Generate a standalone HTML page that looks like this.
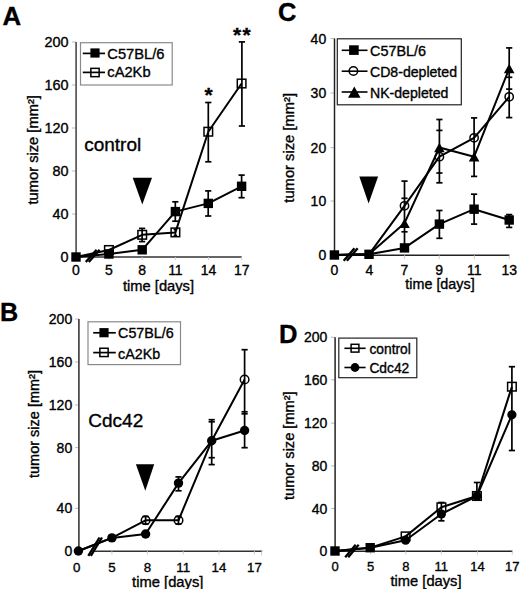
<!DOCTYPE html><html><head><meta charset="utf-8"><style>html,body{margin:0;padding:0;background:#fff;}svg{display:block;}text{font-family:"Liberation Sans",sans-serif;fill:#000;stroke:#000;stroke-width:0.35px;}</style></head><body>
<svg width="520" height="589" viewBox="0 0 520 589">
<rect width="520" height="589" fill="#fff"/>
<text x="2.4" y="25.1" font-size="25.8" text-anchor="start" font-weight="bold">A</text>
<line x1="72" y1="42" x2="76" y2="42" stroke="#bbb" stroke-width="1"/>
<text x="68.5" y="47.184" font-size="14.4" text-anchor="end">200</text>
<line x1="72" y1="85" x2="76" y2="85" stroke="#bbb" stroke-width="1"/>
<text x="68.5" y="90.184" font-size="14.4" text-anchor="end">160</text>
<line x1="72" y1="128" x2="76" y2="128" stroke="#bbb" stroke-width="1"/>
<text x="68.5" y="133.184" font-size="14.4" text-anchor="end">120</text>
<line x1="72" y1="171" x2="76" y2="171" stroke="#bbb" stroke-width="1"/>
<text x="68.5" y="176.184" font-size="14.4" text-anchor="end">80</text>
<line x1="72" y1="214" x2="76" y2="214" stroke="#bbb" stroke-width="1"/>
<text x="68.5" y="219.184" font-size="14.4" text-anchor="end">40</text>
<line x1="72" y1="257" x2="76" y2="257" stroke="#bbb" stroke-width="1"/>
<text x="68.5" y="262.184" font-size="14.4" text-anchor="end">0</text>
<line x1="76.1" y1="42" x2="76.1" y2="257" stroke="#4a4a4a" stroke-width="1.6"/>
<line x1="76" y1="257.1" x2="241.7" y2="257.1" stroke="#333" stroke-width="1.5"/>
<line x1="76" y1="257" x2="76" y2="260" stroke="#ccc" stroke-width="1"/>
<text x="76" y="275.2" font-size="14" text-anchor="middle">0</text>
<line x1="109" y1="257" x2="109" y2="260" stroke="#ccc" stroke-width="1"/>
<text x="109" y="275.2" font-size="14" text-anchor="middle">5</text>
<line x1="142.2" y1="257" x2="142.2" y2="260" stroke="#ccc" stroke-width="1"/>
<text x="142.2" y="275.2" font-size="14" text-anchor="middle">8</text>
<line x1="175.4" y1="257" x2="175.4" y2="260" stroke="#ccc" stroke-width="1"/>
<text x="175.4" y="275.2" font-size="14" text-anchor="middle">11</text>
<line x1="208.5" y1="257" x2="208.5" y2="260" stroke="#ccc" stroke-width="1"/>
<text x="208.5" y="275.2" font-size="14" text-anchor="middle">14</text>
<line x1="241.7" y1="257" x2="241.7" y2="260" stroke="#ccc" stroke-width="1"/>
<text x="241.7" y="275.2" font-size="14" text-anchor="middle">17</text>
<text x="123.0" y="291.3" font-size="14.7" text-anchor="start">time [days]</text>
<text transform="translate(37.6,149.8) rotate(-90)" font-size="14.7" text-anchor="middle">tumor size [mm²]</text>
<rect x="80.5" y="42.7" width="91.7" height="42.3" fill="#fff" stroke="#8a8a8a" stroke-width="1.2"/>
<line x1="82.8" y1="53.4" x2="105" y2="53.4" stroke="#000" stroke-width="1.7"/>
<rect x="90.4" y="48.4" width="9.2" height="9.2" fill="#000"/>
<text x="107.3" y="58.8" font-size="14.7" text-anchor="start">C57BL/6</text>
<line x1="82.8" y1="72.4" x2="105" y2="72.4" stroke="#000" stroke-width="1.7"/>
<rect x="90.85" y="68.35" width="8.3" height="8.3" fill="none" stroke="#000" stroke-width="1.5"/>
<text x="107.3" y="77.4" font-size="14.7" text-anchor="start">cA2Kb</text>
<text x="84.2" y="150.8" font-size="19.0" text-anchor="start">control</text>
<polygon points="132.7,177.7 152,177.7 142.3,204.6" fill="#000"/>
<line x1="142.1" y1="228.4" x2="142.1" y2="241.6" stroke="#000" stroke-width="1.7"/>
<line x1="139.0" y1="228.4" x2="145.2" y2="228.4" stroke="#000" stroke-width="1.7"/>
<line x1="139.0" y1="241.6" x2="145.2" y2="241.6" stroke="#000" stroke-width="1.7"/>
<line x1="175.3" y1="201.8" x2="175.3" y2="221.2" stroke="#000" stroke-width="1.7"/>
<line x1="172.20000000000002" y1="201.8" x2="178.4" y2="201.8" stroke="#000" stroke-width="1.7"/>
<line x1="172.20000000000002" y1="221.2" x2="178.4" y2="221.2" stroke="#000" stroke-width="1.7"/>
<line x1="208.2" y1="190.9" x2="208.2" y2="216" stroke="#000" stroke-width="1.7"/>
<line x1="205.1" y1="190.9" x2="211.29999999999998" y2="190.9" stroke="#000" stroke-width="1.7"/>
<line x1="205.1" y1="216" x2="211.29999999999998" y2="216" stroke="#000" stroke-width="1.7"/>
<line x1="241.6" y1="175.1" x2="241.6" y2="197.7" stroke="#000" stroke-width="1.7"/>
<line x1="238.5" y1="175.1" x2="244.7" y2="175.1" stroke="#000" stroke-width="1.7"/>
<line x1="238.5" y1="197.7" x2="244.7" y2="197.7" stroke="#000" stroke-width="1.7"/>
<line x1="208.3" y1="102.5" x2="208.3" y2="161.8" stroke="#000" stroke-width="1.7"/>
<line x1="205.20000000000002" y1="102.5" x2="211.4" y2="102.5" stroke="#000" stroke-width="1.7"/>
<line x1="205.20000000000002" y1="161.8" x2="211.4" y2="161.8" stroke="#000" stroke-width="1.7"/>
<line x1="241.9" y1="41.9" x2="241.9" y2="126.0" stroke="#000" stroke-width="1.7"/>
<line x1="238.8" y1="41.9" x2="245.0" y2="41.9" stroke="#000" stroke-width="1.7"/>
<line x1="238.8" y1="126.0" x2="245.0" y2="126.0" stroke="#000" stroke-width="1.7"/>
<line x1="175.4" y1="229.5" x2="175.4" y2="235.5" stroke="#000" stroke-width="1.7"/>
<line x1="173.65" y1="229.5" x2="177.15" y2="229.5" stroke="#000" stroke-width="1.7"/>
<line x1="173.65" y1="235.5" x2="177.15" y2="235.5" stroke="#000" stroke-width="1.7"/>
<line x1="85.8" y1="261.9" x2="96.6" y2="249.8" stroke="#000" stroke-width="2.3"/>
<line x1="88.8" y1="261.9" x2="99.6" y2="249.8" stroke="#000" stroke-width="2.3"/>
<polyline points="76,257 108.9,250 142.2,234.8 175.4,232.4 208.3,131.7 241.6,83.5" fill="none" stroke="#000" stroke-width="2.0" stroke-linejoin="round"/>
<polyline points="76,257 108.9,254 142.2,249.8 175.4,211.6 208.3,203.4 241.6,186.3" fill="none" stroke="#000" stroke-width="2.0" stroke-linejoin="round"/>
<rect x="104.60000000000001" y="245.7" width="8.6" height="8.6" fill="none" stroke="#000" stroke-width="1.5"/>
<rect x="137.89999999999998" y="230.5" width="8.6" height="8.6" fill="none" stroke="#000" stroke-width="1.5"/>
<rect x="171.1" y="228.1" width="8.6" height="8.6" fill="none" stroke="#000" stroke-width="1.5"/>
<rect x="204.0" y="127.39999999999999" width="8.6" height="8.6" fill="none" stroke="#000" stroke-width="1.5"/>
<rect x="237.29999999999998" y="79.2" width="8.6" height="8.6" fill="none" stroke="#000" stroke-width="1.5"/>
<rect x="71.3" y="252.3" width="9.4" height="9.4" fill="#000"/>
<rect x="104.2" y="249.3" width="9.4" height="9.4" fill="#000"/>
<rect x="137.5" y="245.10000000000002" width="9.4" height="9.4" fill="#000"/>
<rect x="170.70000000000002" y="206.9" width="9.4" height="9.4" fill="#000"/>
<rect x="203.60000000000002" y="198.70000000000002" width="9.4" height="9.4" fill="#000"/>
<rect x="236.9" y="181.60000000000002" width="9.4" height="9.4" fill="#000"/>
<text x="208.7" y="101.5" font-size="21" text-anchor="middle" font-weight="bold">*</text>
<text x="242.6" y="42.2" font-size="21" text-anchor="middle" font-weight="bold" letter-spacing="1.4">**</text>
<text x="0" y="321.1" font-size="25.2" text-anchor="start" font-weight="bold">B</text>
<line x1="75" y1="319" x2="79" y2="319" stroke="#bbb" stroke-width="1"/>
<text x="72.2" y="324.04" font-size="14" text-anchor="end">200</text>
<line x1="75" y1="362" x2="79" y2="362" stroke="#bbb" stroke-width="1"/>
<text x="72.2" y="367.04" font-size="14" text-anchor="end">160</text>
<line x1="75" y1="405" x2="79" y2="405" stroke="#bbb" stroke-width="1"/>
<text x="72.2" y="410.04" font-size="14" text-anchor="end">120</text>
<line x1="75" y1="447.6" x2="79" y2="447.6" stroke="#bbb" stroke-width="1"/>
<text x="72.2" y="452.64000000000004" font-size="14" text-anchor="end">80</text>
<line x1="75" y1="508.3" x2="79" y2="508.3" stroke="#bbb" stroke-width="1"/>
<text x="72.2" y="513.34" font-size="14" text-anchor="end">40</text>
<line x1="75" y1="551.2" x2="79" y2="551.2" stroke="#bbb" stroke-width="1"/>
<text x="72.2" y="556.24" font-size="14" text-anchor="end">0</text>
<line x1="78.9" y1="319" x2="78.9" y2="551.2" stroke="#383838" stroke-width="1.6"/>
<line x1="94" y1="551.3" x2="262.2" y2="551.3" stroke="#333" stroke-width="1.5"/>
<line x1="261.5" y1="551.3" x2="261.5" y2="555.5" stroke="#ccc" stroke-width="1"/>
<line x1="76.8" y1="551.2" x2="76.8" y2="554.5" stroke="#ccc" stroke-width="1"/>
<text x="76.8" y="572.3" font-size="13.3" text-anchor="middle">0</text>
<line x1="111.9" y1="551.2" x2="111.9" y2="554.5" stroke="#ccc" stroke-width="1"/>
<text x="111.9" y="572.3" font-size="13.3" text-anchor="middle">5</text>
<line x1="147.4" y1="551.2" x2="147.4" y2="554.5" stroke="#ccc" stroke-width="1"/>
<text x="147.4" y="572.3" font-size="13.3" text-anchor="middle">8</text>
<line x1="183.2" y1="551.2" x2="183.2" y2="554.5" stroke="#ccc" stroke-width="1"/>
<text x="183.2" y="572.3" font-size="13.3" text-anchor="middle">11</text>
<line x1="218.9" y1="551.2" x2="218.9" y2="554.5" stroke="#ccc" stroke-width="1"/>
<text x="218.9" y="572.3" font-size="13.3" text-anchor="middle">14</text>
<line x1="254.4" y1="551.2" x2="254.4" y2="554.5" stroke="#ccc" stroke-width="1"/>
<text x="254.4" y="572.3" font-size="13.3" text-anchor="middle">17</text>
<text x="132.1" y="586.6" font-size="14.75" text-anchor="start">time [days]</text>
<text transform="translate(39.2,424) rotate(-90)" font-size="14.5" text-anchor="middle">tumor size [mm²]</text>
<rect x="88" y="321.8" width="92.5" height="42.8" fill="#fff" stroke="#8a8a8a" stroke-width="1.2"/>
<line x1="93.2" y1="332.8" x2="115.8" y2="332.8" stroke="#000" stroke-width="1.7"/>
<rect x="99.4" y="328.09999999999997" width="9.2" height="9.2" fill="#000"/>
<text x="118.1" y="338.3" font-size="14.3" text-anchor="start">C57BL/6</text>
<line x1="93.2" y1="352.6" x2="115.8" y2="352.6" stroke="#000" stroke-width="1.7"/>
<rect x="99.85" y="348.25" width="8.3" height="8.3" fill="none" stroke="#000" stroke-width="1.5"/>
<text x="118.1" y="359.0" font-size="14.3" text-anchor="start">cA2Kb</text>
<text x="88.3" y="427.3" font-size="19.0" text-anchor="start">Cdc42</text>
<polygon points="135.9,464.3 154.2,464.3 145.3,490.7" fill="#000"/>
<line x1="178.5" y1="476.9" x2="178.5" y2="490.8" stroke="#000" stroke-width="1.7"/>
<line x1="175.4" y1="476.9" x2="181.6" y2="476.9" stroke="#000" stroke-width="1.7"/>
<line x1="175.4" y1="490.8" x2="181.6" y2="490.8" stroke="#000" stroke-width="1.7"/>
<line x1="145.6" y1="516.5" x2="145.6" y2="524" stroke="#000" stroke-width="1.7"/>
<line x1="142.5" y1="516.5" x2="148.7" y2="516.5" stroke="#000" stroke-width="1.7"/>
<line x1="142.5" y1="524" x2="148.7" y2="524" stroke="#000" stroke-width="1.7"/>
<line x1="178.5" y1="516.5" x2="178.5" y2="524" stroke="#000" stroke-width="1.7"/>
<line x1="175.4" y1="516.5" x2="181.6" y2="516.5" stroke="#000" stroke-width="1.7"/>
<line x1="175.4" y1="524" x2="181.6" y2="524" stroke="#000" stroke-width="1.7"/>
<line x1="211.7" y1="419.7" x2="211.7" y2="464.6" stroke="#000" stroke-width="1.7"/>
<line x1="208.6" y1="419.7" x2="214.79999999999998" y2="419.7" stroke="#000" stroke-width="1.7"/>
<line x1="208.6" y1="421.8" x2="214.79999999999998" y2="421.8" stroke="#000" stroke-width="1.7"/>
<line x1="208.6" y1="457.7" x2="214.79999999999998" y2="457.7" stroke="#000" stroke-width="1.7"/>
<line x1="208.6" y1="464.6" x2="214.79999999999998" y2="464.6" stroke="#000" stroke-width="1.7"/>
<line x1="244.6" y1="349.7" x2="244.6" y2="447.7" stroke="#000" stroke-width="1.7"/>
<line x1="241.5" y1="349.7" x2="247.7" y2="349.7" stroke="#000" stroke-width="1.7"/>
<line x1="241.5" y1="411.8" x2="247.7" y2="411.8" stroke="#000" stroke-width="1.7"/>
<line x1="241.5" y1="413.8" x2="247.7" y2="413.8" stroke="#000" stroke-width="1.7"/>
<line x1="241.5" y1="447.7" x2="247.7" y2="447.7" stroke="#000" stroke-width="1.7"/>
<line x1="88.3" y1="555.8" x2="99.5" y2="537.5" stroke="#000" stroke-width="2.3"/>
<line x1="90.8" y1="555.8" x2="102.0" y2="537.5" stroke="#000" stroke-width="2.3"/>
<polyline points="78.4,551 111.9,537.9 145.6,520.3 178.5,520.3 211.7,440.8 244.6,379.5" fill="none" stroke="#000" stroke-width="2.0" stroke-linejoin="round"/>
<polyline points="78.4,551 111.9,537.9 145.6,534 178.5,483.1 211.7,440.8 244.6,430.5" fill="none" stroke="#000" stroke-width="2.0" stroke-linejoin="round"/>
<circle cx="145.6" cy="520.3" r="4.3" fill="none" stroke="#000" stroke-width="1.5"/>
<circle cx="178.5" cy="520.3" r="4.3" fill="none" stroke="#000" stroke-width="1.5"/>
<circle cx="244.6" cy="379.5" r="4.3" fill="none" stroke="#000" stroke-width="1.5"/>
<circle cx="78.4" cy="551" r="4.7" fill="#000"/>
<circle cx="111.9" cy="537.9" r="4.7" fill="#000"/>
<circle cx="145.6" cy="534" r="4.7" fill="#000"/>
<circle cx="178.5" cy="483.1" r="4.7" fill="#000"/>
<circle cx="211.7" cy="440.8" r="4.7" fill="#000"/>
<circle cx="244.6" cy="430.5" r="4.7" fill="#000"/>
<text x="278" y="21.1" font-size="25.4" text-anchor="start" font-weight="bold">C</text>
<line x1="330.5" y1="38.5" x2="334.5" y2="38.5" stroke="#bbb" stroke-width="1"/>
<text x="326.2" y="43.54" font-size="14" text-anchor="end">40</text>
<line x1="330.5" y1="93" x2="334.5" y2="93" stroke="#bbb" stroke-width="1"/>
<text x="326.2" y="98.04" font-size="14" text-anchor="end">30</text>
<line x1="330.5" y1="147.7" x2="334.5" y2="147.7" stroke="#bbb" stroke-width="1"/>
<text x="326.2" y="152.73999999999998" font-size="14" text-anchor="end">20</text>
<line x1="330.5" y1="201" x2="334.5" y2="201" stroke="#bbb" stroke-width="1"/>
<text x="326.2" y="206.04" font-size="14" text-anchor="end">10</text>
<line x1="330.5" y1="255.2" x2="334.5" y2="255.2" stroke="#bbb" stroke-width="1"/>
<text x="326.2" y="260.24" font-size="14" text-anchor="end">0</text>
<line x1="334.5" y1="38.5" x2="334.5" y2="255.3" stroke="#222" stroke-width="1.5"/>
<line x1="334.5" y1="255.3" x2="509.5" y2="255.3" stroke="#222" stroke-width="1.5"/>
<line x1="334.4" y1="255.3" x2="334.4" y2="259" stroke="#ccc" stroke-width="1"/>
<text x="334.4" y="274.6" font-size="14" text-anchor="middle">0</text>
<line x1="369.3" y1="255.3" x2="369.3" y2="259" stroke="#ccc" stroke-width="1"/>
<text x="369.3" y="274.6" font-size="14" text-anchor="middle">4</text>
<line x1="404.5" y1="255.3" x2="404.5" y2="259" stroke="#ccc" stroke-width="1"/>
<text x="404.5" y="274.6" font-size="14" text-anchor="middle">7</text>
<line x1="439.2" y1="255.3" x2="439.2" y2="259" stroke="#ccc" stroke-width="1"/>
<text x="439.2" y="274.6" font-size="14" text-anchor="middle">9</text>
<line x1="474.3" y1="255.3" x2="474.3" y2="259" stroke="#ccc" stroke-width="1"/>
<text x="474.3" y="274.6" font-size="14" text-anchor="middle">11</text>
<line x1="509.2" y1="255.3" x2="509.2" y2="259" stroke="#ccc" stroke-width="1"/>
<text x="509.2" y="274.6" font-size="14" text-anchor="middle">13</text>
<text x="405.3" y="289.0" font-size="14.35" text-anchor="start">time [days]</text>
<text transform="translate(294.1,147.8) rotate(-90)" font-size="14.75" text-anchor="middle">tumor size [mm²]</text>
<rect x="337.3" y="38.8" width="124" height="66" fill="#fff" stroke="#222" stroke-width="1.2"/>
<line x1="341.7" y1="50.3" x2="367.5" y2="50.3" stroke="#000" stroke-width="1.6"/>
<rect x="349.09999999999997" y="45.300000000000004" width="9.6" height="9.6" fill="#000"/>
<text x="370" y="56.3" font-size="14.4" text-anchor="start">C57BL/6</text>
<line x1="341.7" y1="71.2" x2="367.5" y2="71.2" stroke="#000" stroke-width="1.6"/>
<circle cx="353.4" cy="71" r="4.25" fill="none" stroke="#000" stroke-width="1.5"/>
<text x="370" y="77" font-size="14.1" text-anchor="start">CD8-depleted</text>
<line x1="341.7" y1="92" x2="367.5" y2="92" stroke="#000" stroke-width="1.6"/>
<polygon points="348.05,97.85000000000001 360.55,97.85000000000001 354.3,86.55" fill="#000"/>
<text x="370" y="97.8" font-size="14.1" text-anchor="start">NK-depleted</text>
<polygon points="359.3,176.5 378.1,176.5 368.6,203.4" fill="#000"/>
<line x1="404.5" y1="181.1" x2="404.5" y2="231.8" stroke="#000" stroke-width="1.7"/>
<line x1="401.4" y1="181.1" x2="407.6" y2="181.1" stroke="#000" stroke-width="1.7"/>
<line x1="401.4" y1="198.3" x2="407.6" y2="198.3" stroke="#000" stroke-width="1.7"/>
<line x1="401.4" y1="231.8" x2="407.6" y2="231.8" stroke="#000" stroke-width="1.7"/>
<line x1="404.5" y1="231.8" x2="404.5" y2="246" stroke="#000" stroke-width="1.7"/>
<line x1="439.4" y1="119.5" x2="439.4" y2="182.8" stroke="#000" stroke-width="1.7"/>
<line x1="436.29999999999995" y1="119.5" x2="442.5" y2="119.5" stroke="#000" stroke-width="1.7"/>
<line x1="436.29999999999995" y1="130.4" x2="442.5" y2="130.4" stroke="#000" stroke-width="1.7"/>
<line x1="436.29999999999995" y1="173" x2="442.5" y2="173" stroke="#000" stroke-width="1.7"/>
<line x1="436.29999999999995" y1="182.8" x2="442.5" y2="182.8" stroke="#000" stroke-width="1.7"/>
<line x1="439.4" y1="210.5" x2="439.4" y2="238.3" stroke="#000" stroke-width="1.7"/>
<line x1="436.29999999999995" y1="210.5" x2="442.5" y2="210.5" stroke="#000" stroke-width="1.7"/>
<line x1="436.29999999999995" y1="238.3" x2="442.5" y2="238.3" stroke="#000" stroke-width="1.7"/>
<line x1="474.1" y1="117.9" x2="474.1" y2="176.4" stroke="#000" stroke-width="1.7"/>
<line x1="471.0" y1="117.9" x2="477.20000000000005" y2="117.9" stroke="#000" stroke-width="1.7"/>
<line x1="471.0" y1="176.4" x2="477.20000000000005" y2="176.4" stroke="#000" stroke-width="1.7"/>
<line x1="474.1" y1="194.2" x2="474.1" y2="224.1" stroke="#000" stroke-width="1.7"/>
<line x1="471.0" y1="194.2" x2="477.20000000000005" y2="194.2" stroke="#000" stroke-width="1.7"/>
<line x1="471.0" y1="224.1" x2="477.20000000000005" y2="224.1" stroke="#000" stroke-width="1.7"/>
<line x1="509.2" y1="47.9" x2="509.2" y2="117.6" stroke="#000" stroke-width="1.7"/>
<line x1="506.09999999999997" y1="47.9" x2="512.3" y2="47.9" stroke="#000" stroke-width="1.7"/>
<line x1="506.09999999999997" y1="77.3" x2="512.3" y2="77.3" stroke="#000" stroke-width="1.7"/>
<line x1="506.09999999999997" y1="89.1" x2="512.3" y2="89.1" stroke="#000" stroke-width="1.7"/>
<line x1="506.09999999999997" y1="117.6" x2="512.3" y2="117.6" stroke="#000" stroke-width="1.7"/>
<line x1="509.2" y1="214.6" x2="509.2" y2="227.4" stroke="#000" stroke-width="1.7"/>
<line x1="506.09999999999997" y1="214.6" x2="512.3" y2="214.6" stroke="#000" stroke-width="1.7"/>
<line x1="506.09999999999997" y1="227.4" x2="512.3" y2="227.4" stroke="#000" stroke-width="1.7"/>
<line x1="343.7" y1="260.8" x2="354.5" y2="248.3" stroke="#000" stroke-width="2.3"/>
<line x1="346.9" y1="260.8" x2="357.7" y2="248.3" stroke="#000" stroke-width="2.3"/>
<polyline points="334.4,255 369,254.3 404.5,205.8 439.4,156.7 474.1,137.8 509.2,96.8" fill="none" stroke="#000" stroke-width="2.0" stroke-linejoin="round"/>
<polyline points="334.4,255 369,254.3 404.5,223.2 439.4,147.5 474.1,156.7 509.2,68.5" fill="none" stroke="#000" stroke-width="2.0" stroke-linejoin="round"/>
<polyline points="334.4,255 369,254.3 404.5,247.9 439.4,224.1 474.1,209.2 509.2,220" fill="none" stroke="#000" stroke-width="2.0" stroke-linejoin="round"/>
<circle cx="404.5" cy="205.8" r="4.15" fill="none" stroke="#000" stroke-width="1.5"/>
<circle cx="439.4" cy="156.7" r="4.15" fill="none" stroke="#000" stroke-width="1.5"/>
<circle cx="474.1" cy="137.8" r="4.15" fill="none" stroke="#000" stroke-width="1.5"/>
<circle cx="509.2" cy="96.8" r="4.15" fill="none" stroke="#000" stroke-width="1.5"/>
<polygon points="399.2,228.0 409.8,228.0 404.5,218.39999999999998" fill="#000"/>
<polygon points="434.09999999999997,152.3 444.7,152.3 439.4,142.7" fill="#000"/>
<polygon points="468.8,161.5 479.40000000000003,161.5 474.1,151.89999999999998" fill="#000"/>
<polygon points="503.9,73.3 514.5,73.3 509.2,63.7" fill="#000"/>
<rect x="329.7" y="250.3" width="9.4" height="9.4" fill="#000"/>
<rect x="364.3" y="249.60000000000002" width="9.4" height="9.4" fill="#000"/>
<rect x="399.8" y="243.20000000000002" width="9.4" height="9.4" fill="#000"/>
<rect x="434.7" y="219.4" width="9.4" height="9.4" fill="#000"/>
<rect x="469.40000000000003" y="204.5" width="9.4" height="9.4" fill="#000"/>
<rect x="504.5" y="215.3" width="9.4" height="9.4" fill="#000"/>
<text x="279" y="342.8" font-size="25.6" text-anchor="start" font-weight="bold">D</text>
<line x1="331" y1="337.3" x2="335" y2="337.3" stroke="#bbb" stroke-width="1"/>
<text x="327.3" y="342.34000000000003" font-size="14" text-anchor="end">200</text>
<line x1="331" y1="379.8" x2="335" y2="379.8" stroke="#bbb" stroke-width="1"/>
<text x="327.3" y="384.84000000000003" font-size="14" text-anchor="end">160</text>
<line x1="331" y1="423.1" x2="335" y2="423.1" stroke="#bbb" stroke-width="1"/>
<text x="327.3" y="428.14000000000004" font-size="14" text-anchor="end">120</text>
<line x1="331" y1="465.9" x2="335" y2="465.9" stroke="#bbb" stroke-width="1"/>
<text x="327.3" y="470.94" font-size="14" text-anchor="end">80</text>
<line x1="331" y1="508.5" x2="335" y2="508.5" stroke="#bbb" stroke-width="1"/>
<text x="327.3" y="513.54" font-size="14" text-anchor="end">40</text>
<line x1="331" y1="551.2" x2="335" y2="551.2" stroke="#bbb" stroke-width="1"/>
<text x="327.3" y="556.24" font-size="14" text-anchor="end">0</text>
<line x1="335.1" y1="337.3" x2="335.1" y2="551.2" stroke="#222" stroke-width="1.5"/>
<line x1="335" y1="551.2" x2="512.5" y2="551.2" stroke="#222" stroke-width="1.5"/>
<line x1="335" y1="551.2" x2="335" y2="554.5" stroke="#ccc" stroke-width="1"/>
<text x="335" y="571.2" font-size="13" text-anchor="middle">0</text>
<line x1="370.6" y1="551.2" x2="370.6" y2="554.5" stroke="#ccc" stroke-width="1"/>
<text x="370.6" y="571.2" font-size="13" text-anchor="middle">5</text>
<line x1="405.8" y1="551.2" x2="405.8" y2="554.5" stroke="#ccc" stroke-width="1"/>
<text x="405.8" y="571.2" font-size="13" text-anchor="middle">8</text>
<line x1="441.3" y1="551.2" x2="441.3" y2="554.5" stroke="#ccc" stroke-width="1"/>
<text x="441.3" y="571.2" font-size="13" text-anchor="middle">11</text>
<line x1="477.4" y1="551.2" x2="477.4" y2="554.5" stroke="#ccc" stroke-width="1"/>
<text x="477.4" y="571.2" font-size="13" text-anchor="middle">14</text>
<line x1="512.3" y1="551.2" x2="512.3" y2="554.5" stroke="#ccc" stroke-width="1"/>
<text x="512.3" y="571.2" font-size="13" text-anchor="middle">17</text>
<text x="390.5" y="586.3" font-size="14.7" text-anchor="start">time [days]</text>
<text transform="translate(293.8,445.7) rotate(-90)" font-size="14.6" text-anchor="middle">tumor size [mm²]</text>
<rect x="338.8" y="338.1" width="78" height="39.6" fill="#fff" stroke="#222" stroke-width="1.2"/>
<line x1="344.4" y1="348.3" x2="365.6" y2="348.3" stroke="#000" stroke-width="1.6"/>
<rect x="351.1" y="344.3" width="7.8" height="7.8" fill="none" stroke="#000" stroke-width="1.5"/>
<text x="369.4" y="354" font-size="13.8" text-anchor="start">control</text>
<line x1="344.4" y1="367.5" x2="365.6" y2="367.5" stroke="#000" stroke-width="1.6"/>
<circle cx="355" cy="367.5" r="4.4" fill="#000"/>
<text x="369.4" y="373.3" font-size="13.8" text-anchor="start">Cdc42</text>
<line x1="441.4" y1="502.5" x2="441.4" y2="520.8" stroke="#000" stroke-width="1.7"/>
<line x1="438.29999999999995" y1="502.5" x2="444.5" y2="502.5" stroke="#000" stroke-width="1.7"/>
<line x1="438.29999999999995" y1="520.8" x2="444.5" y2="520.8" stroke="#000" stroke-width="1.7"/>
<line x1="476.9" y1="482.5" x2="476.9" y2="500" stroke="#000" stroke-width="1.7"/>
<line x1="473.79999999999995" y1="482.5" x2="480.0" y2="482.5" stroke="#000" stroke-width="1.7"/>
<line x1="473.79999999999995" y1="500" x2="480.0" y2="500" stroke="#000" stroke-width="1.7"/>
<line x1="511.9" y1="366.7" x2="511.9" y2="450.5" stroke="#000" stroke-width="1.7"/>
<line x1="508.79999999999995" y1="366.7" x2="515.0" y2="366.7" stroke="#000" stroke-width="1.7"/>
<line x1="508.79999999999995" y1="450.5" x2="515.0" y2="450.5" stroke="#000" stroke-width="1.7"/>
<line x1="345.2" y1="557.3" x2="355.7" y2="544.8" stroke="#000" stroke-width="2.3"/>
<line x1="348.2" y1="557.3" x2="358.7" y2="544.8" stroke="#000" stroke-width="2.3"/>
<polyline points="335,551 370.2,547.7 405.6,536.4 441.4,507.3 476.9,496 511.9,386.7" fill="none" stroke="#000" stroke-width="2.0" stroke-linejoin="round"/>
<polyline points="335,551 370.2,547.7 405.6,540.2 441.4,514 476.9,496 511.9,414.8" fill="none" stroke="#000" stroke-width="2.0" stroke-linejoin="round"/>
<rect x="401.3" y="532.1" width="8.6" height="8.6" fill="none" stroke="#000" stroke-width="1.5"/>
<rect x="437.09999999999997" y="503.0" width="8.6" height="8.6" fill="none" stroke="#000" stroke-width="1.5"/>
<rect x="472.59999999999997" y="491.7" width="8.6" height="8.6" fill="none" stroke="#000" stroke-width="1.5"/>
<rect x="507.59999999999997" y="382.4" width="8.6" height="8.6" fill="none" stroke="#000" stroke-width="1.5"/>
<circle cx="405.6" cy="540.2" r="4.6" fill="#000"/>
<circle cx="441.4" cy="514" r="4.6" fill="#000"/>
<circle cx="476.9" cy="496" r="4.6" fill="#000"/>
<circle cx="511.9" cy="414.8" r="4.6" fill="#000"/>
<rect x="330.3" y="546.3" width="9.4" height="9.4" fill="#000"/>
<rect x="365.5" y="543.0" width="9.4" height="9.4" fill="#000"/>
</svg></body></html>
